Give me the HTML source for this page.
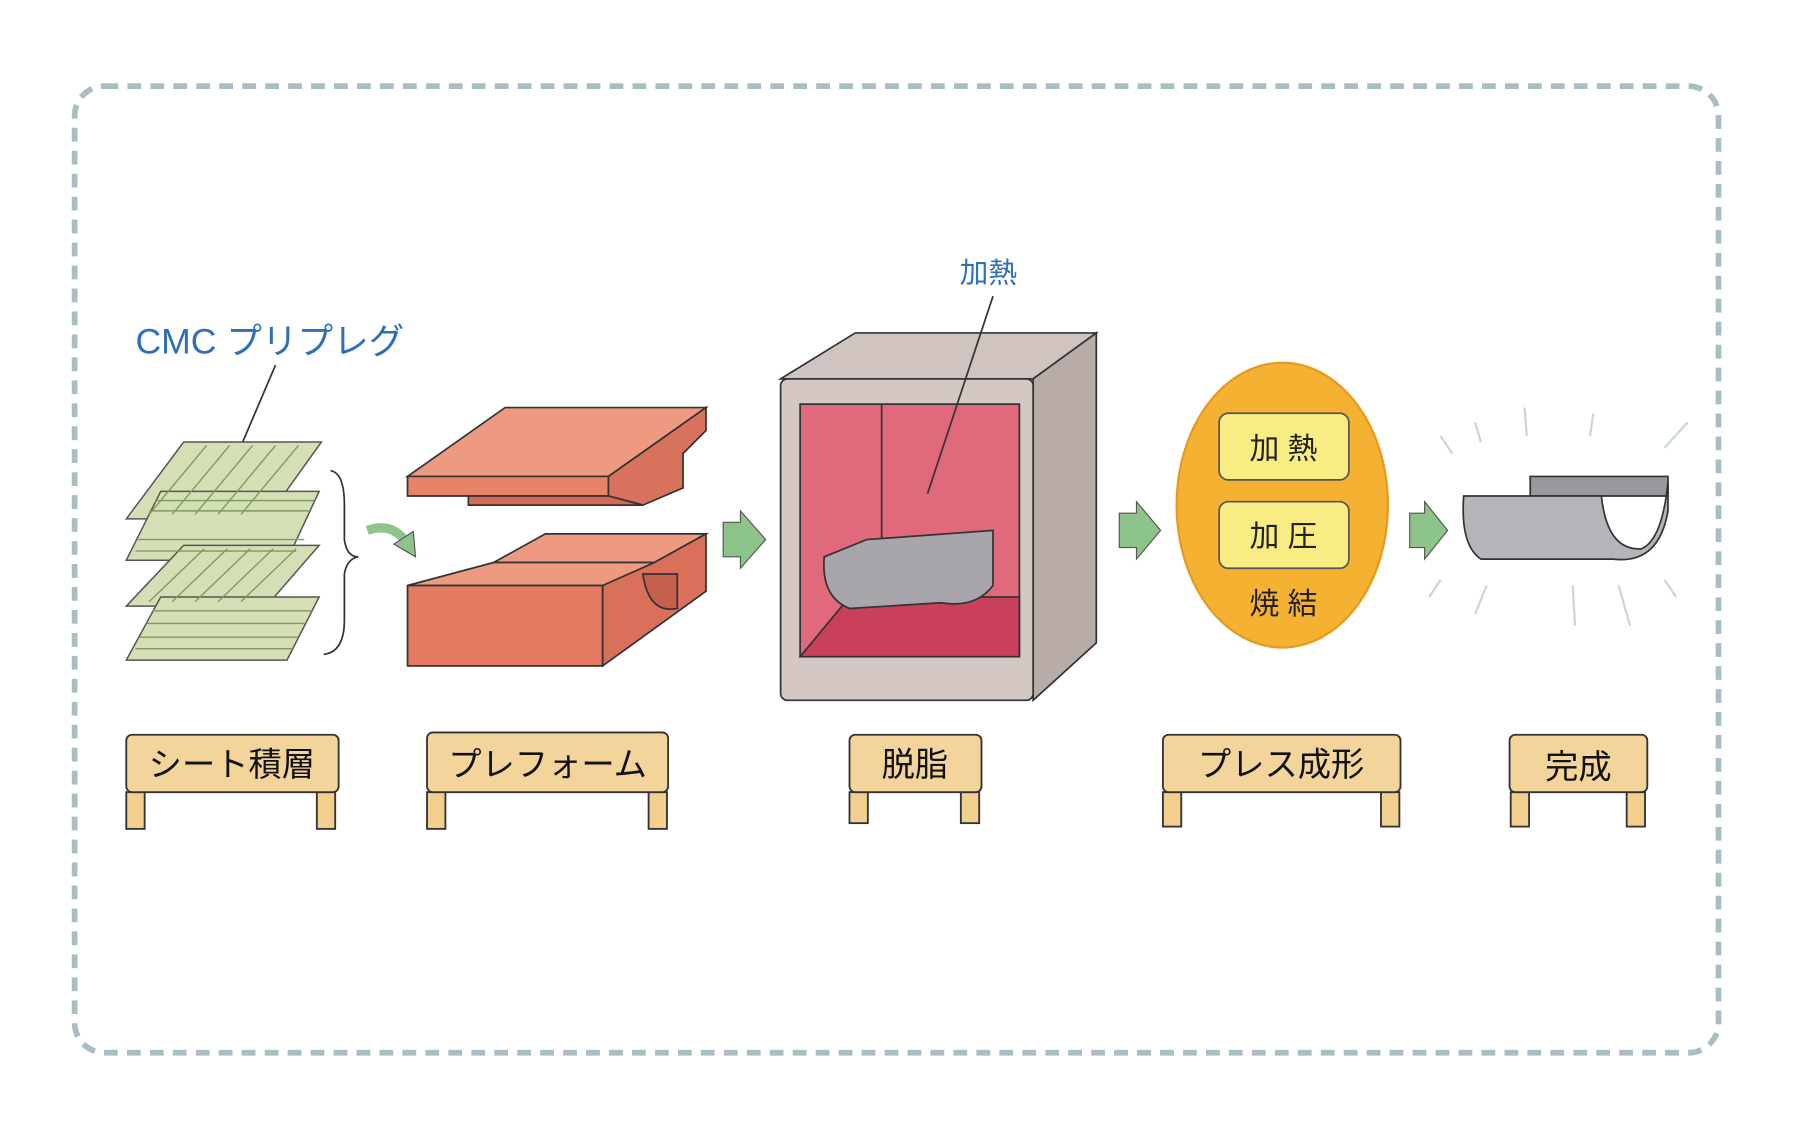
<!DOCTYPE html>
<html><head><meta charset="utf-8"><style>
html,body{margin:0;padding:0;background:#fff;width:1800px;height:1140px;overflow:hidden}
svg{display:block}
text{font-family:"Liberation Sans","Noto Sans CJK JP",sans-serif}
</style></head><body>
<svg width="1800" height="1140" viewBox="0 0 1568 993" preserveAspectRatio="none" xmlns="http://www.w3.org/2000/svg">
<rect x="65" y="75" width="1432" height="842" rx="26" fill="none" stroke="#a9bdc4" stroke-width="5" stroke-dasharray="12 8"/>

<text x="118" y="308" font-size="31" fill="#2f6fb8">CMC プリプレグ</text>
<line x1="240" y1="318" x2="205" y2="400" stroke="#333" stroke-width="1.5"/>

<g stroke="#555" stroke-width="1.3" fill="#d4dfb6">
<polygon points="110,452 160,385 280,385 232,452"/>
<polygon points="110,488 140,428 278,428 250,488"/>
<polygon points="110,528 160,475 278,475 232,528"/>
<polygon points="110,575 140,520 278,520 250,575"/>
</g>
<g stroke="#7f9a5a" stroke-width="1.2">
<line x1="130" y1="448" x2="180" y2="388"/><line x1="150" y1="448" x2="200" y2="388"/><line x1="170" y1="448" x2="220" y2="388"/><line x1="190" y1="448" x2="240" y2="388"/><line x1="210" y1="448" x2="260" y2="388"/>
<line x1="120" y1="470" x2="265" y2="470"/><line x1="118" y1="480" x2="258" y2="480"/><line x1="130" y1="445" x2="270" y2="445"/><line x1="135" y1="436" x2="274" y2="436"/>
<line x1="130" y1="524" x2="178" y2="478"/><line x1="150" y1="524" x2="198" y2="478"/><line x1="170" y1="524" x2="218" y2="478"/><line x1="190" y1="524" x2="238" y2="478"/><line x1="210" y1="524" x2="258" y2="478"/>
<line x1="118" y1="565" x2="255" y2="565"/><line x1="122" y1="555" x2="260" y2="555"/><line x1="128" y1="543" x2="266" y2="543"/><line x1="133" y1="532" x2="272" y2="532"/>
</g>
<path d="M288,410 Q300,412 300,440 L300,470 Q302,485 312,485 Q302,487 300,500 L300,540 Q300,568 282,570" fill="none" stroke="#333" stroke-width="1.5"/>
<path d="M320,462 Q340,455 352,470" fill="none" stroke="#8cc48a" stroke-width="8"/>
<polygon points="343,474 362,485 360,463" fill="#8cc48a" stroke="#555" stroke-width="1"/>

<g stroke="#333" stroke-width="1.5">
<polygon points="355,415 440,355 615,355 530,415" fill="#ee9a80"/>
<polygon points="355,415 530,415 530,432 355,432" fill="#e8836a"/>
<polygon points="530,415 615,355 615,375 595,395 595,425 560,440 530,432" fill="#d9725c"/>
<polygon points="408,432 530,432 560,440 408,440" fill="#d66a55"/>
<polygon points="430,490 475,465 615,465 570,490" fill="#ee9a80"/>
<polygon points="355,510 430,490 570,490 565,530 520,510 400,510" fill="#ee9a80"/>
<polygon points="355,510 525,510 525,580 355,580" fill="#e57a62"/>
<polygon points="525,510 570,490 615,465 615,515 525,580" fill="#d9705a"/>
<path d="M560,500 Q565,535 590,530 L590,500 Z" fill="#c5604c"/>
</g>
<polygon points="630,455 645,455 645,445 667,470 645,495 645,485 630,485" fill="#8cc48a" stroke="#555" stroke-width="1"/>

<g stroke="#333" stroke-width="1.5">
<polygon points="680,330 745,290 955,290 900,330" fill="#cfc4c0"/>
<polygon points="900,330 955,290 955,560 900,610" fill="#b8aca8"/>
<rect x="680" y="330" width="220" height="280" rx="6" fill="#d3c8c4"/>
<rect x="697" y="352" width="191" height="220" fill="#e06a7c"/>
<polygon points="697,572 740,520 888,520 888,572" fill="#c9405a"/>
<line x1="768" y1="352" x2="768" y2="520"/>
<path d="M718,485 L755,470 L865,462 L865,510 Q850,530 820,525 L740,530 Q715,520 718,485 Z" fill="#a8a6ac"/>
</g>
<text x="836" y="246" font-size="25" fill="#2f6fb8">加熱</text>
<line x1="865" y1="258" x2="808" y2="430" stroke="#333" stroke-width="1.5"/>
<polygon points="975,447 990,447 990,437 1011,462 990,487 990,477 975,477" fill="#8cc48a" stroke="#555" stroke-width="1"/>

<ellipse cx="1117" cy="440" rx="92" ry="124" fill="#f5b232" stroke="#e89a20" stroke-width="2"/>
<rect x="1062" y="360" width="113" height="58" rx="8" fill="#f8ec82" stroke="#555" stroke-width="1.5"/>
<rect x="1062" y="437" width="113" height="58" rx="8" fill="#f8ec82" stroke="#555" stroke-width="1.5"/>
<text x="1118" y="400" font-size="26" fill="#222" text-anchor="middle">加 熱</text>
<text x="1118" y="476" font-size="26" fill="#222" text-anchor="middle">加 圧</text>
<text x="1118" y="535" font-size="26" fill="#222" text-anchor="middle">焼 結</text>
<polygon points="1228,447 1241,447 1241,437 1261,462 1241,487 1241,477 1228,477" fill="#8cc48a" stroke="#555" stroke-width="1"/>

<g stroke="#333" stroke-width="1.5">
<polygon points="1333,415 1453,415 1453,432 1333,432" fill="#9a989e"/>
<path d="M1275,432 L1395,432 Q1400,480 1430,478 Q1448,470 1453,420 L1453,445 Q1445,492 1405,487 L1290,487 Q1272,475 1275,432 Z" fill="#b6b4b9"/>
</g>
<g stroke="#c9d6dc" stroke-width="2">
<line x1="1265" y1="395" x2="1255" y2="380"/><line x1="1290" y1="385" x2="1285" y2="368"/><line x1="1330" y1="380" x2="1328" y2="355"/><line x1="1385" y1="380" x2="1388" y2="360"/><line x1="1450" y1="390" x2="1470" y2="368"/>
<line x1="1255" y1="505" x2="1245" y2="520"/><line x1="1295" y1="510" x2="1285" y2="535"/><line x1="1370" y1="510" x2="1372" y2="545"/><line x1="1410" y1="510" x2="1420" y2="545"/><line x1="1450" y1="505" x2="1460" y2="520"/>
</g>

<g stroke="#333" stroke-width="1.6" fill="#f2cf8e">
<rect x="110" y="690" width="16" height="32"/><rect x="276" y="690" width="16" height="32"/>
<rect x="110" y="640" width="185" height="50" rx="5" fill="#f3d49a"/>
<rect x="372" y="690" width="16" height="32"/><rect x="565" y="690" width="16" height="32"/>
<rect x="372" y="638" width="210" height="52" rx="5" fill="#f3d49a"/>
<rect x="740" y="690" width="16" height="27"/><rect x="837" y="690" width="16" height="27"/>
<rect x="740" y="640" width="115" height="50" rx="5" fill="#f3d49a"/>
<rect x="1013" y="690" width="16" height="30"/><rect x="1203" y="690" width="16" height="30"/>
<rect x="1013" y="640" width="207" height="50" rx="5" fill="#f3d49a"/>
<rect x="1316" y="690" width="16" height="30"/><rect x="1417" y="690" width="16" height="30"/>
<rect x="1315" y="640" width="120" height="50" rx="5" fill="#f3d49a"/>
</g>
<g font-size="29" fill="#111" text-anchor="middle">
<text x="202" y="676">シート積層</text>
<text x="477" y="676">プレフォーム</text>
<text x="797" y="676">脱脂</text>
<text x="1116" y="676">プレス成形</text>
<text x="1375" y="678">完成</text>
</g>
</svg>
</body></html>
